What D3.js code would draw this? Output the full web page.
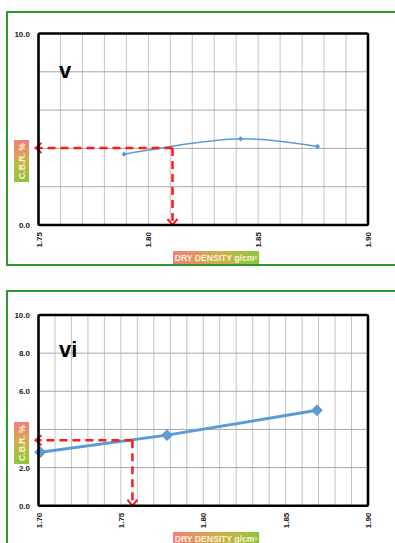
<!DOCTYPE html>
<html>
<head>
<meta charset="utf-8">
<script src="https://cdn.jsdelivr.net/npm/d3@7"></script>
<style>
  html, body { margin: 0; padding: 0; background: #fff; }
  svg { display: block; font-family: Arial, "Liberation Sans", sans-serif; }
</style>
</head>
<body>
<svg id="chart" width="395" height="543"></svg>
<script>
// Panel v: C.B.R. against dry density
const vDensity = [1.789, 1.842, 1.877];
const vCbr = [3.7, 4.5, 4.1];
const vReadDensity = 1.811;
const vReadCbr = 4.02;
const vXTicks = [1.75, 1.80, 1.85, 1.90];
const vYLabels = [0, 10];

// Panel vi: C.B.R. against dry density
const viDensity = [1.701, 1.778, 1.869];
const viCbr = [2.8, 3.7, 5.0];
const viReadDensity = 1.757;
const viReadCbr = 3.43;
const viXTicks = [1.70, 1.75, 1.80, 1.85, 1.90];
const viYLabels = [0, 2, 6, 8, 10];

const svg = d3.select("#chart");
const defs = svg.append("defs");

const gx = defs.append("linearGradient").attr("id", "gradX")
  .attr("x1", "0%").attr("x2", "100%").attr("y1", "0%").attr("y2", "0%");
gx.append("stop").attr("offset", "0%").attr("stop-color", "#f47d7d");
gx.append("stop").attr("offset", "55%").attr("stop-color", "#c9b24a");
gx.append("stop").attr("offset", "100%").attr("stop-color", "#8cc63f");

const gy = defs.append("linearGradient").attr("id", "gradY")
  .attr("x1", "0%").attr("x2", "0%").attr("y1", "0%").attr("y2", "100%");
gy.append("stop").attr("offset", "0%").attr("stop-color", "#f47d7d");
gy.append("stop").attr("offset", "50%").attr("stop-color", "#c9b24a");
gy.append("stop").attr("offset", "100%").attr("stop-color", "#8cc63f");

function drawPanel(o) {
  const g = svg.append("g");

  // green outline of the chart box
  g.append("rect")
    .attr("x", 7).attr("y", o.boxTop)
    .attr("width", 400).attr("height", o.boxHeight)
    .attr("fill", "none").attr("stroke", "#2e9a2e").attr("stroke-width", 2);

  const left = 38.5, right = 368;
  const x = d3.scaleLinear().domain(o.xDomain).range([left, right]);
  const y = d3.scaleLinear().domain([0, 10]).range([o.bottom, o.top]);

  // vertical grid every 0.01
  const nx = Math.round((o.xDomain[1] - o.xDomain[0]) / 0.01);
  const xGrid = d3.range(1, nx).map(i => o.xDomain[0] + i * 0.01);
  g.selectAll(".vg").data(xGrid).join("line")
    .attr("x1", d => x(d)).attr("x2", d => x(d))
    .attr("y1", o.top).attr("y2", o.bottom)
    .attr("stroke", "#c4c4c4").attr("stroke-width", 1);

  // horizontal grid every 2.0
  g.selectAll(".hg").data([2, 4, 6, 8]).join("line")
    .attr("x1", left).attr("x2", right)
    .attr("y1", d => y(d)).attr("y2", d => y(d))
    .attr("stroke", "#a8a8a8").attr("stroke-width", 1);

  // data line
  const line = d3.line()
    .x((d, i) => x(o.density[i]))
    .y((d, i) => y(o.cbr[i]))
    .curve(o.smooth ? d3.curveCatmullRom.alpha(0.5) : d3.curveLinear);
  g.append("path").datum(o.cbr)
    .attr("d", line)
    .attr("fill", "none").attr("stroke", "#5b9bd5")
    .attr("stroke-width", o.lineWidth);

  g.selectAll(".pt").data(o.cbr).join("path")
    .attr("transform", (d, i) => `translate(${x(o.density[i])},${y(d)})`)
    .attr("d", d3.symbol(d3.symbolDiamond2, o.markerSize))
    .attr("fill", "#5b9bd5");

  // reading arrows
  const rx = x(o.readDensity), ry = y(o.readCbr);
  const dash = "8,5";
  g.append("line")
    .attr("x1", rx).attr("x2", left - 1).attr("y1", ry).attr("y2", ry)
    .attr("stroke", "#ff1a1a").attr("stroke-width", 2.5).attr("stroke-dasharray", dash);
  g.append("line")
    .attr("x1", rx).attr("x2", rx).attr("y1", ry).attr("y2", o.bottom)
    .attr("stroke", "#ff1a1a").attr("stroke-width", 2.5).attr("stroke-dasharray", dash);
  const ah = 5;
  g.append("path")
    .attr("d", `M${left - 2 + ah},${ry - ah}L${left - 3},${ry}L${left - 2 + ah},${ry + ah}`)
    .attr("fill", "none").attr("stroke", "#ff1a1a").attr("stroke-width", 2);
  g.append("path")
    .attr("d", `M${rx - ah},${o.bottom - ah - 1}L${rx},${o.bottom}L${rx + ah},${o.bottom - ah - 1}`)
    .attr("fill", "none").attr("stroke", "#ff1a1a").attr("stroke-width", 2);

  // plot frame
  g.append("rect")
    .attr("x", left).attr("y", o.top)
    .attr("width", right - left).attr("height", o.bottom - o.top)
    .attr("rx", 1.5)
    .attr("fill", "none").attr("stroke", "#000").attr("stroke-width", 2.6);

  // y labels
  g.selectAll(".yl").data(o.yLabels).join("text")
    .attr("x", 30).attr("y", d => y(d) + 3)
    .attr("text-anchor", "end")
    .attr("font-size", 8).attr("font-weight", "bold").attr("fill", "#222")
    .text(d => d.toFixed(1));

  // x labels, rotated
  g.selectAll(".xl").data(o.xTicks).join("text")
    .attr("transform", d => `translate(${x(d) + 3},${o.bottom + 7}) rotate(-90)`)
    .attr("text-anchor", "end")
    .attr("font-size", 8).attr("font-weight", "bold").attr("fill", "#222")
    .text(d => d.toFixed(2));

  // axis title boxes
  g.append("rect")
    .attr("x", 173).attr("y", o.xTitleY).attr("width", 86).attr("height", 13)
    .attr("fill", "url(#gradX)");
  g.append("text")
    .attr("x", 216).attr("y", o.xTitleY + 10)
    .attr("text-anchor", "middle").attr("font-size", 8.6).attr("font-weight", "bold")
    .attr("fill", "#fdf3d0")
    .text("DRY DENSITY g/cm³");

  g.append("rect")
    .attr("x", 14).attr("y", o.yTitleY).attr("width", 15).attr("height", 42)
    .attr("fill", "url(#gradY)");
  g.append("text")
    .attr("transform", `translate(24.5,${o.yTitleY + 21}) rotate(-90)`)
    .attr("text-anchor", "middle").attr("font-size", 8.6).attr("font-weight", "bold")
    .attr("fill", "#fdf3d0")
    .text("C.B.R. %");

  // panel tag
  g.append("text")
    .attr("x", 59).attr("y", o.tagY)
    .attr("font-size", 22).attr("font-weight", "bold").attr("fill", "#000")
    .text(o.tag);
}

drawPanel({
  boxTop: 12, boxHeight: 253,
  top: 33.5, bottom: 225,
  xDomain: [1.75, 1.90],
  density: vDensity, cbr: vCbr,
  readDensity: vReadDensity, readCbr: vReadCbr,
  xTicks: vXTicks, yLabels: vYLabels,
  smooth: true, lineWidth: 1.5, markerSize: 18,
  xTitleY: 251, yTitleY: 140,
  tag: "v", tagY: 78
});

drawPanel({
  boxTop: 291, boxHeight: 270,
  top: 315, bottom: 505.7,
  xDomain: [1.70, 1.90],
  density: viDensity, cbr: viCbr,
  readDensity: viReadDensity, readCbr: viReadCbr,
  xTicks: viXTicks, yLabels: viYLabels,
  smooth: false, lineWidth: 3, markerSize: 90,
  xTitleY: 532, yTitleY: 422,
  tag: "vi", tagY: 357
});
</script>
</body>
</html>
